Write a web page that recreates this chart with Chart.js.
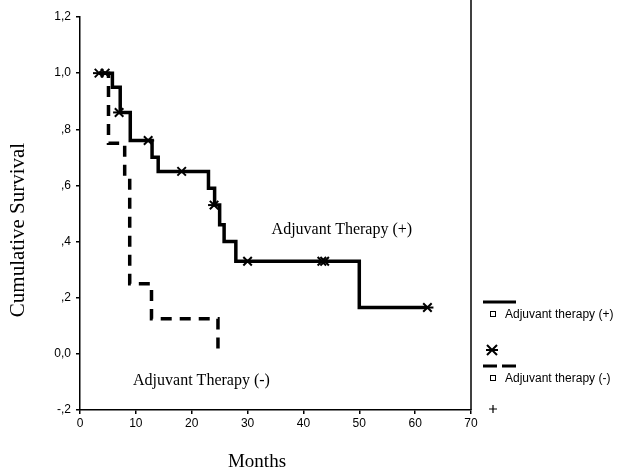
<!DOCTYPE html>
<html>
<head>
<meta charset="utf-8">
<script src="https://cdn.jsdelivr.net/npm/chart.js@4"></script>
<style>
    html, body { margin: 0; padding: 0; background: #fff; }
    #wrap { width: 621px; height: 472px; position: relative; }
</style>
</head>
<body>
<div id="wrap"><canvas id="survivalChart" width="621" height="472"></canvas></div>
<script>
// Adjuvant therapy (+): step times (months) and survival after each step
const plusTimes = [3.4, 5.8, 7.2, 9.0, 12.9, 14.0, 23.0, 24.1, 25.0, 25.8, 27.9, 50.0, 62.2];
const plusSurvival = [1.0, 0.95, 0.86, 0.76, 0.70, 0.65, 0.59, 0.53, 0.46, 0.40, 0.33, 0.165, 0.165];

// Adjuvant therapy (-)
const minusTimes = [4.0, 5.1, 8.0, 8.9, 12.8, 24.7];
const minusSurvival = [1.0, 0.75, 0.625, 0.25, 0.125, 0.0];

// censored cases, adjuvant therapy (+)
const censoredTimes = [3.4, 4.5, 7.0, 12.2, 18.2, 24.0, 30.0, 43.3, 43.8, 62.2];
const censoredSurvival = [1.0, 1.0, 0.86, 0.76, 0.65, 0.53, 0.33, 0.33, 0.33, 0.165];

const yTickLabels = ['-,2', '0,0', ',2', ',4', ',6', ',8', '1,0', '1,2'];
const xTickLabels = ['0', '10', '20', '30', '40', '50', '60', '70'];

const toPoints = (xs, ys) => xs.map((x, i) => ({ x: x, y: ys[i] }));

const serif = '"Liberation Serif", "Times New Roman", serif';
const sans = '"Liberation Sans", Arial, sans-serif';

// axis titles, curve labels, right border and the legend
const decorations = {
    id: 'decorations',
    afterDraw(chart) {
        const ctx = chart.ctx;
        const area = chart.chartArea;
        const xs = chart.scales.x;
        const ys = chart.scales.y;
        ctx.save();

        // right frame line
        ctx.strokeStyle = '#000';
        ctx.lineWidth = 1.5;
        ctx.beginPath();
        ctx.moveTo(area.right, area.top - 20);
        ctx.lineTo(area.right, area.bottom);
        ctx.stroke();

        ctx.fillStyle = '#000';
        ctx.font = '19px ' + serif;
        ctx.textAlign = 'center';
        ctx.textBaseline = 'middle';
        ctx.fillText('Months', 257, 462);

        ctx.save();
        ctx.font = '21px ' + serif;
        ctx.translate(18, 230);
        ctx.rotate(-Math.PI / 2);
        ctx.fillText('Cumulative Survival', 0, 0);
        ctx.restore();

        ctx.font = '16px ' + serif;
        ctx.textAlign = 'left';
        ctx.fillText('Adjuvant Therapy (+)', xs.getPixelForValue(34.3), ys.getPixelForValue(0.443));
        ctx.fillText('Adjuvant Therapy (-)', xs.getPixelForValue(9.5), ys.getPixelForValue(-0.096));

        // legend
        const lx = area.right + 12;
        ctx.lineWidth = 3;
        ctx.beginPath();
        ctx.moveTo(lx, 302);
        ctx.lineTo(lx + 33, 302);
        ctx.stroke();

        ctx.setLineDash([14, 5]);
        ctx.beginPath();
        ctx.moveTo(lx, 366);
        ctx.lineTo(lx + 33, 366);
        ctx.stroke();
        ctx.setLineDash([]);

        ctx.lineWidth = 1;
        ctx.strokeRect(lx + 7.5, 311.5, 5, 5);
        ctx.strokeRect(lx + 7.5, 375.5, 5, 5);

        ctx.font = '12px ' + sans;
        ctx.fillText('Adjuvant therapy (+)', lx + 22, 315);
        ctx.fillText('Adjuvant therapy (-)', lx + 22, 379);

        // censored symbols
        ctx.lineWidth = 2;
        const cx = lx + 9, cy = 350, r = 5;
        ctx.beginPath();
        ctx.moveTo(cx - r, cy - r); ctx.lineTo(cx + r, cy + r);
        ctx.moveTo(cx + r, cy - r); ctx.lineTo(cx - r, cy + r);
        ctx.moveTo(cx - r - 1, cy); ctx.lineTo(cx + r + 1, cy);
        ctx.stroke();

        ctx.lineWidth = 1.2;
        ctx.beginPath();
        ctx.moveTo(lx + 10, 405); ctx.lineTo(lx + 10, 413);
        ctx.moveTo(lx + 6, 409); ctx.lineTo(lx + 14, 409);
        ctx.stroke();

        ctx.restore();
    }
};

new Chart(document.getElementById('survivalChart'), {
    type: 'line',
    data: {
        datasets: [
            {
                label: 'censored (+)',
                data: toPoints(censoredTimes, censoredSurvival),
                showLine: false,
                pointStyle: 'crossRot',
                pointRadius: 6,
                pointBorderWidth: 2,
                pointBorderColor: '#000',
                order: 0
            },
            {
                label: 'censored (+) bar',
                data: toPoints(censoredTimes, censoredSurvival),
                showLine: false,
                pointStyle: 'line',
                pointRadius: 6,
                pointBorderWidth: 2,
                pointBorderColor: '#000',
                order: 0
            },
            {
                label: 'Adjuvant therapy (+)',
                data: toPoints(plusTimes, plusSurvival),
                stepped: true,
                borderColor: '#000',
                borderWidth: 3.5,
                pointRadius: 0,
                fill: false,
                order: 1
            },
            {
                label: 'Adjuvant therapy (-)',
                data: toPoints(minusTimes, minusSurvival),
                stepped: true,
                borderColor: '#000',
                borderWidth: 3.5,
                borderDash: [11, 8],
                pointRadius: 0,
                fill: false,
                order: 2
            }
        ]
    },
    options: {
        responsive: false,
        animation: false,
        devicePixelRatio: 1,
        layout: {
            padding: { left: 0, right: 150, top: 17, bottom: 0 }
        },
        scales: {
            x: {
                type: 'linear',
                min: 0,
                max: 70,
                ticks: {
                    stepSize: 10,
                    color: '#000',
                    font: { family: sans, size: 12 },
                    padding: 2,
                    maxRotation: 0,
                    autoSkip: false,
                    callback: (value, index) => xTickLabels[index]
                },
                grid: { display: true, drawOnChartArea: false, drawTicks: true, tickLength: 4, color: '#000', lineWidth: 1.5 },
                border: { display: true, color: '#000', width: 1.5 },
                afterFit: (scale) => { scale.height = 62; }
            },
            y: {
                type: 'linear',
                min: -0.2,
                max: 1.2,
                ticks: {
                    stepSize: 0.2,
                    color: '#000',
                    font: { family: sans, size: 12 },
                    padding: 5,
                    autoSkip: false,
                    callback: (value, index) => yTickLabels[index]
                },
                grid: { display: true, drawOnChartArea: false, drawTicks: true, tickLength: 4, color: '#000', lineWidth: 1.5 },
                border: { display: true, color: '#000', width: 1.5 },
                afterFit: (scale) => { scale.width = 80; }
            }
        },
        plugins: {
            legend: { display: false },
            tooltip: { enabled: false }
        }
    },
    plugins: [decorations]
});
</script>
</body>
</html>
